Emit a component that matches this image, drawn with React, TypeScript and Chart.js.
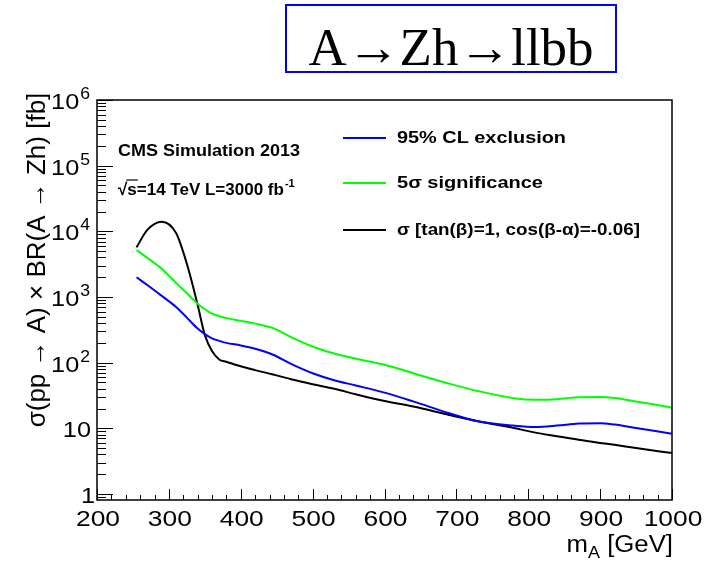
import React, { useEffect, useRef } from "react";
import { Chart, registerables } from "chart.js";

Chart.register(...registerables);

// ---- data ----
const massGeV = [255, 270, 290, 310, 325, 340, 350, 360, 370, 380, 400, 420, 445, 470, 500, 530, 560, 600, 640, 690, 730, 780, 810, 840, 870, 900, 920, 950, 1000];
const exclusion95 = [2000, 1520, 1040, 705, 485, 330, 272, 235, 215, 200, 183, 163, 132, 96, 69, 54, 45, 35, 25.7, 17, 12.8, 11, 10.5, 11, 11.8, 12, 11.4, 10.1, 8.3];
const significance5 = [5200, 3950, 2700, 1640, 1140, 790, 650, 560, 512, 477, 433, 393, 335, 245, 176, 138, 115, 93, 69, 48, 37, 28.8, 27.3, 27.8, 29.8, 30, 29, 25.6, 20.8];
const theoryXsec = [5700, 10500, 14000, 9400, 3200, 760, 265, 150, 112, 103, 88, 77, 66, 56, 47, 40, 33, 26, 21.5, 16, 12.8, 10.1, 8.6, 7.6, 6.7, 6.0, 5.6, 5.0, 4.2];

const seriesLabels = ["95% CL exclusion", "5\u03c3 significance", "\u03c3 [tan(\u03b2)=1, cos(\u03b2-\u03b1)=-0.06]"];
const seriesColors = ["#0000ff", "#00ff00", "#000000"];

const xTickValues = [200, 300, 400, 500, 600, 700, 800, 900, 1000];
const yTickExponents = [0, 1, 2, 3, 4, 5, 6];

const X_MIN = 200;
const X_MAX = 1000;
const Y_MIN = 0.81;
const Y_MAX = 1e6;

const SANS = '"Liberation Sans", Arial, Helvetica, sans-serif';
const SERIF = '"Liberation Serif", "Times New Roman", serif';

// draw text with a horizontal stretch factor
function drawStretched(ctx: CanvasRenderingContext2D, text: string, x: number, y: number, sx: number, align: CanvasTextAlign) {
  ctx.save();
  ctx.translate(x, y);
  ctx.scale(sx, 1);
  ctx.textAlign = align;
  ctx.fillText(text, 0, 0);
  ctx.restore();
}

// draw text left-aligned, stretched to a target width
function drawFit(ctx: CanvasRenderingContext2D, text: string, x: number, y: number, width: number) {
  const w = ctx.measureText(text).width;
  drawStretched(ctx, text, x, y, width / w, "left");
}

const rootStylePlugin = {
  id: "rootStyle",
  beforeDraw(chart: any) {
    const ctx = chart.ctx;
    ctx.save();
    ctx.fillStyle = "#ffffff";
    ctx.fillRect(0, 0, chart.width, chart.height);
    ctx.restore();
  },
  afterDraw(chart: any) {
    const ctx: CanvasRenderingContext2D = chart.ctx;
    const { left, right, top, bottom } = chart.chartArea;
    const xs = chart.scales.x;
    const ys = chart.scales.y;
    ctx.save();

    // frame
    ctx.strokeStyle = "#000";
    ctx.lineWidth = 1.5;
    ctx.strokeRect(left, top, right - left, bottom - top);

    // x ticks (inward)
    ctx.lineWidth = 1;
    ctx.beginPath();
    for (let v = X_MIN; v <= X_MAX; v += 20) {
      const px = Math.round(xs.getPixelForValue(v)) + 0.5;
      const len = v % 100 === 0 ? 11 : 5;
      ctx.moveTo(px, bottom);
      ctx.lineTo(px, bottom - len);
    }
    // y ticks (inward)
    for (let e = -1; e <= 6; e++) {
      for (let k = 1; k <= 9; k++) {
        const v = k * Math.pow(10, e);
        if (v < Y_MIN || v > Y_MAX) continue;
        const py = Math.round(ys.getPixelForValue(v)) + 0.5;
        const len = k === 1 ? 16 : 9;
        ctx.moveTo(left, py);
        ctx.lineTo(left + len, py);
      }
    }
    ctx.stroke();

    ctx.fillStyle = "#000";
    ctx.textBaseline = "alphabetic";

    // x tick labels
    ctx.font = `22px ${SANS}`;
    for (const v of xTickValues) {
      drawStretched(ctx, String(v), xs.getPixelForValue(v) + 1, bottom + 26, 1.2, "center");
    }

    // y tick labels
    for (const e of yTickExponents) {
      const py = ys.getPixelForValue(Math.pow(10, e));
      if (e === 0) {
        ctx.font = `22px ${SANS}`;
        drawStretched(ctx, "1", 95, py + 9, 1.15, "right");
      } else if (e === 1) {
        ctx.font = `22px ${SANS}`;
        drawStretched(ctx, "10", 91, py + 9, 1.15, "right");
      } else {
        ctx.font = `16px ${SANS}`;
        const sup = String(e);
        const supW = ctx.measureText(sup).width * 1.1;
        drawStretched(ctx, sup, 90, py - 1, 1.1, "right");
        ctx.font = `22px ${SANS}`;
        drawStretched(ctx, "10", 90 - supW - 1, py + 9, 1.15, "right");
      }
    }

    // y axis title (fitted to the reference length)
    {
      const txt = "\u03c3(pp \u2192 A) \u00d7 BR(A \u2192 Zh) [fb]";
      ctx.font = `22px ${SANS}`;
      const w22 = ctx.measureText(txt).width;
      const size = Math.min(27, (22 * 334) / w22);
      ctx.save();
      ctx.translate(38, 260);
      ctx.rotate(-Math.PI / 2);
      ctx.font = `${size.toFixed(1)}px ${SANS}`;
      ctx.textAlign = "center";
      ctx.textBaseline = "middle";
      ctx.fillText(txt, 0, 0);
      ctx.restore();
    }

    // x axis title: m_A [GeV]
    {
      const base = 552;
      const sx = 1.12;
      ctx.font = `23px ${SANS}`;
      const tail = " [GeV]";
      const wTail = ctx.measureText(tail).width * sx;
      const wM = ctx.measureText("m").width * sx;
      ctx.font = `16px ${SANS}`;
      const wA = ctx.measureText("A").width * sx;
      const startX = right + 1 - wTail - wA - wM;
      ctx.font = `23px ${SANS}`;
      drawStretched(ctx, "m", startX, base, sx, "left");
      ctx.font = `16px ${SANS}`;
      drawStretched(ctx, "A", startX + wM, base + 6, sx, "left");
      ctx.font = `23px ${SANS}`;
      drawStretched(ctx, tail, startX + wM + wA, base, sx, "left");
    }

    // title box
    ctx.fillStyle = "#fff";
    ctx.fillRect(286, 5, 330, 67);
    ctx.strokeStyle = "#0000ff";
    ctx.lineWidth = 2;
    ctx.strokeRect(286, 5, 330, 67);
    ctx.fillStyle = "#000";
    ctx.font = `52px ${SERIF}`;
    {
      const t = "A\u2192Zh\u2192llbb";
      const w = ctx.measureText(t).width;
      drawStretched(ctx, t, 451, 65, 285 / w, "center");
    }

    // CMS labels
    ctx.font = `bold 17px ${SANS}`;
    drawFit(ctx, "CMS Simulation 2013", 118, 156, 182);
    {
      const y = 195;
      const sx = 1.0;
      let x = 118;
      ctx.font = `bold 17px ${SANS}`;
      drawStretched(ctx, "\u221a", x, y, sx, "left");
      x += ctx.measureText("\u221a").width * sx;
      const sW = ctx.measureText("s").width * sx;
      drawStretched(ctx, "s", x, y, sx, "left");
      ctx.strokeStyle = "#000";
      ctx.lineWidth = 1.2;
      ctx.beginPath();
      ctx.moveTo(x - 1, y - 15);
      ctx.lineTo(x + sW + 1, y - 15);
      ctx.stroke();
      x += sW;
      const body = "=14 TeV L=3000 fb";
      drawStretched(ctx, body, x, y, sx, "left");
      x += ctx.measureText(body).width * sx;
      ctx.font = `bold 11px ${SANS}`;
      drawStretched(ctx, "-1", x + 1, y - 8, sx, "left");
    }

    // legend
    const legendY = [138, 183, 230];
    const legendW = [169, 146, 243];
    chart.data.datasets.forEach((ds: any, i: number) => {
      const y = legendY[i];
      ctx.strokeStyle = ds.borderColor;
      ctx.lineWidth = 2;
      ctx.beginPath();
      ctx.moveTo(343, y);
      ctx.lineTo(386, y);
      ctx.stroke();
      ctx.fillStyle = "#000";
      ctx.font = `bold 17px ${SANS}`;
      ctx.textBaseline = "middle";
      drawFit(ctx, ds.label, 397, y, legendW[i]);
    });

    ctx.restore();
  },
};

export default function App() {
  const canvasRef = useRef<HTMLCanvasElement | null>(null);

  useEffect(() => {
    const canvas = canvasRef.current;
    if (!canvas) return;
    const datasets = [exclusion95, significance5, theoryXsec].map((vals, i) => ({
      label: seriesLabels[i],
      data: massGeV.map((m, j) => ({ x: m, y: vals[j] })),
      borderColor: seriesColors[i],
      backgroundColor: seriesColors[i],
      borderWidth: 2,
      pointRadius: 0,
      fill: false,
      cubicInterpolationMode: "monotone" as const,
    }));
    const chart = new Chart(canvas, {
      type: "line",
      data: { datasets },
      options: {
        responsive: false,
        animation: false,
        events: [],
        layout: { padding: { left: 97, top: 100, right: 41, bottom: 61 } },
        scales: {
          x: { type: "linear", min: X_MIN, max: X_MAX, display: false },
          y: { type: "logarithmic", min: Y_MIN, max: Y_MAX, display: false },
        },
        plugins: {
          legend: { display: false },
          tooltip: { enabled: false },
        },
      },
      plugins: [rootStylePlugin],
    });
    return () => chart.destroy();
  }, []);

  return (
    <div style={{ position: "fixed", left: 0, top: 0, width: 713, height: 561, background: "#fff" }}>
      <canvas ref={canvasRef} width={713} height={561} style={{ display: "block" }} />
    </div>
  );
}
